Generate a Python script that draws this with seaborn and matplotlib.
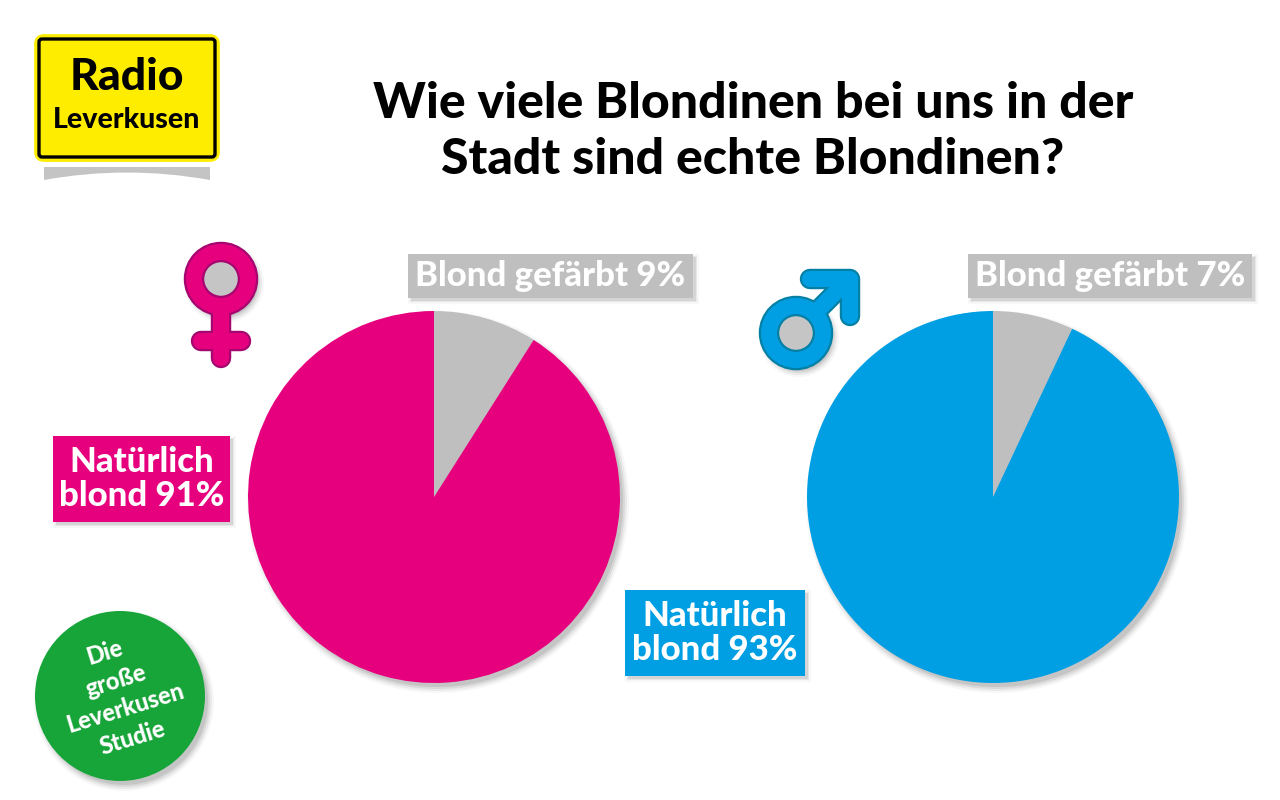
import matplotlib
matplotlib.use("Agg")
import matplotlib.pyplot as plt
from matplotlib.patches import Circle, FancyBboxPatch, PathPatch, Rectangle
from matplotlib.path import Path
import seaborn as sns

SEGMENTS = ["Blond gefärbt", "Natürlich blond"]
WOMEN = [9, 91]
MEN = [7, 93]
TITLE_LINES = ["Wie viele Blondinen bei uns in der", "Stadt sind echte Blondinen?"]
BADGE_LINES = ["Die", "große", "Leverkusen", "Studie"]

PINK = "#E6007E"
PINK_DARK = "#A5066F"
BLUE = "#009FE3"
BLUE_DARK = "#0580A5"
GRAY = "#BFBFBF"
GREEN = "#17A438"
YELLOW = "#FFED00"

sns.set_theme(style="white")
plt.rcParams["font.family"] = ["Lato", "DejaVu Sans"]

fig = plt.figure(figsize=(12.8, 8), dpi=100, facecolor="white")


def pixel_axes(zorder):
    # axes in picture pixels, y going down
    ax = fig.add_axes([0, 0, 1, 1], zorder=zorder)
    ax.set_xlim(0, 1280)
    ax.set_ylim(800, 0)
    ax.axis("off")
    ax.patch.set_alpha(0)
    return ax


def soft_circle(ax, x, y, r, dx=4, dy=5):
    # cheap soft shadow
    for grow, alpha in [(5, 0.03), (3, 0.05), (1, 0.07), (-1, 0.09)]:
        ax.add_patch(Circle((x + dx, y + dy), r + grow, fc="black", ec="none", alpha=alpha))


def soft_rect(ax, x0, y0, x1, y1, dx=3, dy=3):
    for grow, alpha in [(3, 0.03), (1, 0.06), (0, 0.08)]:
        ax.add_patch(Rectangle((x0 + dx - grow, y0 + dy - grow), x1 - x0 + 2 * grow,
                               y1 - y0 + 2 * grow, fc="black", ec="none", alpha=alpha))


def draw_pie(cx, cy, r, values, color):
    ax = fig.add_axes([(cx - r) / 1280, 1 - (cy + r) / 800, 2 * r / 1280, 2 * r / 800], zorder=1)
    ax.pie(values, colors=[GRAY, color], startangle=90, counterclock=False, radius=1,
           wedgeprops={"linewidth": 0})
    ax.set_xlim(-1, 1)
    ax.set_ylim(-1, 1)
    ax.patch.set_alpha(0)


def label_box(ax, x0, y0, x1, y1, color, lines, size):
    soft_rect(ax, x0, y0, x1, y1)
    ax.add_patch(Rectangle((x0, y0), x1 - x0, y1 - y0, fc=color, ec="none"))
    ax.text((x0 + x1) / 2, (y0 + y1) / 2, "\n".join(lines), ha="center", va="center",
            color="white", fontsize=size, fontweight="black", linespacing=1.08)


def stroke(ax, xs, ys, color, dark):
    ax.plot(xs, ys, color=dark, lw=16 * 0.72 + 3.2, solid_capstyle="round", zorder=3)
    ax.plot(xs, ys, color=color, lw=16 * 0.72, solid_capstyle="round", zorder=5)


def ring(ax, x, y, color, dark):
    ax.add_patch(Circle((x, y), 27, fc="none", ec=dark, lw=16 * 0.72 + 3.2, zorder=4))
    ax.add_patch(Circle((x, y), 27, fc="none", ec=color, lw=16 * 0.72, zorder=6))


back = pixel_axes(0)
front = pixel_axes(2)

# shadows under the pies and the badge
soft_circle(back, 434, 497, 186)
soft_circle(back, 993, 497, 186)
soft_circle(back, 120, 696, 85)

draw_pie(434, 497, 186, WOMEN, PINK)
draw_pie(993, 497, 186, MEN, BLUE)

# logo
shadow = Path([(44, 167), (210, 167), (210, 180), (127, 165), (44, 180), (44, 167)],
              [Path.MOVETO, Path.LINETO, Path.LINETO, Path.CURVE3, Path.CURVE3, Path.CLOSEPOLY])
front.add_patch(PathPatch(shadow, fc="#C4C4C4", ec="none"))
front.add_patch(FancyBboxPatch((39, 39), 176, 118, boxstyle="round,pad=0,rounding_size=5",
                               fc=YELLOW, ec=YELLOW, lw=7))
front.add_patch(FancyBboxPatch((39, 39), 176, 118, boxstyle="round,pad=0,rounding_size=3",
                               fc=YELLOW, ec="black", lw=2.4))
front.text(127, 77, "Radio", ha="center", va="center", fontsize=32, fontweight="black", color="black")
front.text(127, 120, "Leverkusen", ha="center", va="center", fontsize=20.5, fontweight="black", color="black")

# title
for y, line in zip([104, 159], TITLE_LINES):
    front.text(753, y, line, ha="center", va="center", fontsize=36, fontweight="black", color="black")

# labels
label_box(front, 408, 254, 693, 298, GRAY, [f"{SEGMENTS[0]} {WOMEN[0]}%"], 25)
label_box(front, 968, 254, 1252, 298, GRAY, [f"{SEGMENTS[0]} {MEN[0]}%"], 25)
label_box(front, 53, 436, 230, 522, PINK, ["Natürlich", f"blond {WOMEN[1]}%"], 25)
label_box(front, 625, 590, 805, 676, BLUE, ["Natürlich", f"blond {MEN[1]}%"], 25)

# venus
soft_circle(back, 221, 279, 35, 3, 4)
ring(front, 221, 279, PINK, PINK_DARK)
stroke(front, [221, 221], [312, 358], PINK, PINK_DARK)
stroke(front, [201, 241], [341, 341], PINK, PINK_DARK)

# mars
soft_circle(back, 796, 333, 35, 3, 4)
ring(front, 796, 333, BLUE, BLUE_DARK)
stroke(front, [816, 848], [312, 280], BLUE, BLUE_DARK)
stroke(front, [810, 850, 850], [279, 279, 316], BLUE, BLUE_DARK)

# badge
front.add_patch(Circle((120, 696), 85, fc=GREEN, ec="none"))
for (x, y), line in zip([(105, 652), (116, 681), (125, 708), (133, 738)], BADGE_LINES):
    front.text(x, y, line, ha="center", va="center", fontsize=17, fontweight="black", color="white",
               rotation=17, rotation_mode="anchor")

fig.savefig("out.png", dpi=100)
